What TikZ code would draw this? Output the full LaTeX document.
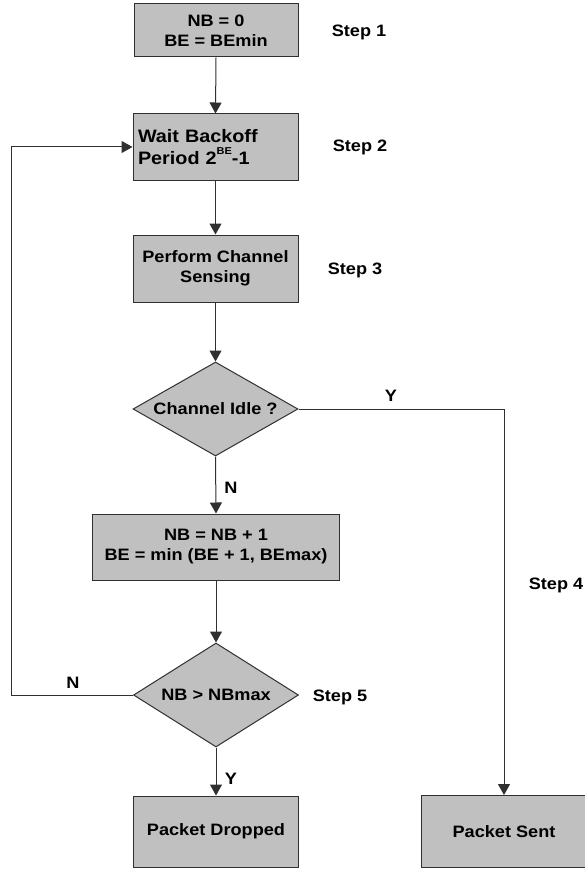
\documentclass[tikz,border=0pt]{standalone}
\usepackage{fontspec}
\setmainfont{Liberation Sans}[FakeStretch=1.1]
\usetikzlibrary{shapes.geometric,arrows.meta}
\definecolor{boxfill}{HTML}{C0C0C0}
\definecolor{linec}{HTML}{303030}
\begin{document}
\begin{tikzpicture}[x=1pt,y=-1pt,
  every node/.style={font=\fontsize{16.5}{20}\selectfont\bfseries},
  procbox/.style={draw=linec,fill=boxfill,line width=1pt,rectangle,inner sep=4pt,align=center},
  decbox/.style={draw=linec,fill=boxfill,line width=1pt,diamond,inner sep=0pt,align=center},
  lbl/.style={anchor=base,inner sep=0pt},
  conn/.style={draw=linec,line width=1pt},
  arr/.style={conn,-{Triangle[length=11pt,width=12pt]}}]
\useasboundingbox (0,0) rectangle (584,869);

\node[procbox,minimum width=164pt,minimum height=53pt] (b1) at (216,30.5) {NB = 0\\BE = BEmin};
\node[procbox,minimum width=165pt,minimum height=66pt,text width=155pt,inner sep=5pt,align=left,
      font=\fontsize{18}{22}\selectfont\bfseries] (b2) at (215.5,147)
      {Wait Backoff\\Period 2\raisebox{10pt}{\fontsize{10}{10}\selectfont BE}-1};
\node[procbox,minimum width=165pt,minimum height=67pt] (b3) at (215.5,268.5) {Perform Channel\\Sensing};
\node[decbox,aspect=1.75,minimum width=165pt,minimum height=94pt] (d1) at (215.5,409) {Channel Idle ?};
\node[procbox,minimum width=247pt,minimum height=66pt] (b4) at (216,547) {NB = NB + 1\\BE = min (BE + 1, BEmax)};
\node[decbox,aspect=1.59,minimum width=165pt,minimum height=104pt] (d2) at (216,695) {NB > NBmax};
\node[procbox,minimum width=165pt,minimum height=71pt] (b5) at (216,831.5) {Packet Dropped};
\node[procbox,minimum width=166pt,minimum height=72pt] (b6) at (504,831.5) {Packet Sent};

\node[lbl] (s1) at (359,37) {Step 1};
\node[lbl] (s2) at (360,152) {Step 2};
\node[lbl] (s3) at (355,274) {Step 3};
\node[lbl] (s4) at (556,589) {Step 4};
\node[lbl] (s5) at (340,701) {Step 5};

\coordinate (c1) at (b6.north |- d1.east);
\coordinate (c2) at (11,695);
\coordinate (c3) at (11,147);

\draw[arr] (b1.south) -- (b2.north);
\draw[arr] (b2.south) -- (b3.north);
\draw[arr] (b3.south) -- (d1.north);
\draw[arr] (d1.south) -- (b4.north);
\draw[arr] (b4.south) -- (d2.north);
\draw[arr] (d2.south) -- (b5.north);
\draw[arr] (d1.east) -- (c1) -- (b6.north);
\draw[arr] (d2.west) -- (c2) -- (c3) -- (b2.west);

\node[lbl] (ly1) at (391,401) {Y};
\node[lbl] (ln1) at (231,493) {N};
\node[lbl] (ln2) at (73,688) {N};
\node[lbl] (ly2) at (231,784) {Y};
\end{tikzpicture}
\end{document}
